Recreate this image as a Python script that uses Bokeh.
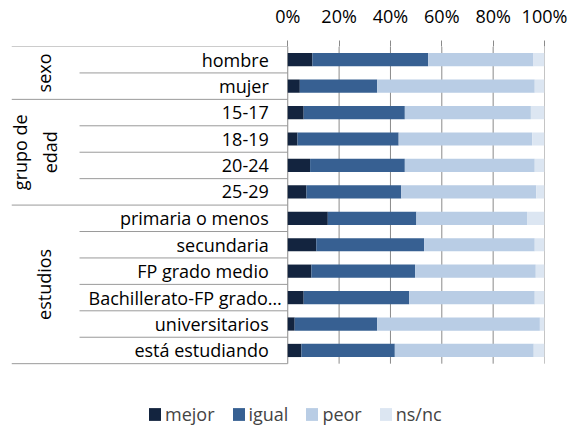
import math
from bokeh.plotting import figure
from bokeh.models import (ColumnDataSource, Range1d, FixedTicker, PrintfTickFormatter,
                          Legend, LegendItem)
from bokeh.core.properties import value
from bokeh.embed import file_html
from bokeh.resources import INLINE

# ---------------- data ----------------
categories = ["hombre", "mujer", "15-17", "18-19", "20-24", "25-29",
              "primaria o menos", "secundaria", "FP grado medio",
              "Bachillerato-FP grado…", "universitarios", "está estudiando"]
groups = ["sexo", "grupo de\nedad", "estudios"]
group_sizes = [2, 4, 6]
series = ["mejor", "igual", "peor", "ns/nc"]
mejor = [9.6, 4.7, 6.2, 3.8, 8.7, 7.3, 15.6, 11.1, 9.2, 6.2, 2.7, 5.3]
igual = [45.1, 30.1, 39.4, 39.4, 36.9, 36.9, 34.5, 42.0, 40.4, 41.1, 32.1, 36.4]
peor = [41.0, 61.4, 49.1, 52.0, 50.6, 52.6, 43.1, 43.1, 47.0, 48.9, 63.4, 54.1]
nsnc = [4.3, 3.8, 5.3, 4.8, 3.8, 3.2, 6.8, 3.8, 3.4, 3.8, 1.8, 4.2]
tick_values = [0, 20, 40, 60, 80, 100]

# ---------------- style ----------------
colors = ["#13243F", "#376092", "#B9CDE5", "#DCE6F2"]
FONT = "Open Sans"
FS = "18px"
GRID = "#8a8a8a"
TABLE = "#9a9a9a"
X_START = -107.6           # room for the label table on the left
X_INNER = -81.1            # start of inner row separators
Y_BELOW = -2.377           # room for the legend below the table

n = len(categories)
ypos = [n - 0.5 - i for i in range(n)]

src = ColumnDataSource(dict(y=ypos, cat=categories, mejor=mejor, igual=igual,
                            peor=peor, nsnc=nsnc))

p = figure(width=570, height=426, output_backend="svg", toolbar_location=None,
           x_range=Range1d(X_START, 100), y_range=Range1d(Y_BELOW, n),
           x_axis_location="above", y_axis_location=None,
           min_border_left=11, min_border_right=26, min_border_top=45,
           min_border_bottom=0)
p.outline_line_color = None
p.background_fill_color = "white"

renderers = p.hbar_stack(["mejor", "igual", "peor", "nsnc"], y="y", height=0.5,
                         color=colors, line_color=None, source=src)

# axis on top
ax = p.xaxis[0]
ax.ticker = FixedTicker(ticks=tick_values)
ax.formatter = PrintfTickFormatter(format="%d%%")
ax.axis_line_color = None
ax.major_tick_line_color = GRID
ax.major_tick_out = 6
ax.major_tick_in = 0
ax.minor_tick_line_color = None
ax.major_label_text_font = FONT
ax.major_label_text_font_size = FS
ax.major_label_text_color = "#000000"
ax.major_label_standoff = 13

p.xgrid.visible = False
p.ygrid.visible = False

# vertical gridlines, only over the table
p.segment(x0=tick_values, x1=tick_values, y0=[0] * len(tick_values), y1=[n] * len(tick_values),
          line_color=GRID, line_width=1, level="underlay")

# table lines
bounds = [n]
for s in group_sizes:
    bounds.append(bounds[-1] - s)
outer_y = bounds
inner_y = [y for y in range(1, n) if y not in bounds]
p.segment(x0=[X_START] * len(outer_y), x1=[0] * len(outer_y), y0=outer_y, y1=outer_y,
          line_color=TABLE, line_width=1)
p.segment(x0=[X_INNER] * len(inner_y), x1=[0] * len(inner_y), y0=inner_y, y1=inner_y,
          line_color=TABLE, line_width=1)

# category labels
short = [i for i, c in enumerate(categories) if not c.endswith("…")]
long_ = [i for i, c in enumerate(categories) if c.endswith("…")]
p.text(x=[0] * len(short), y=[ypos[i] for i in short], text=[categories[i] for i in short],
       x_offset=-19, text_align="right", text_baseline="middle",
       text_font=value(FONT), text_font_size=FS, text_color="#000000")
p.text(x=[0] * len(long_), y=[ypos[i] for i in long_], text=[categories[i] for i in long_],
       x_offset=-6, text_align="right", text_baseline="middle",
       text_font=value(FONT), text_font_size=FS, text_color="#000000")

# group labels (rotated)
centers = [(bounds[k] + bounds[k + 1]) / 2 for k in range(len(groups))]
single = [k for k, g in enumerate(groups) if "\n" not in g]
multi = [k for k, g in enumerate(groups) if "\n" in g]
p.text(x=[0] * len(single), y=[centers[k] for k in single], text=[groups[k] for k in single],
       angle=math.pi / 2, x_offset=-244, text_align="center", text_baseline="middle",
       text_font=value(FONT), text_font_size=FS, text_color="#000000")
p.text(x=[0] * len(multi), y=[centers[k] for k in multi], text=[groups[k] for k in multi],
       angle=math.pi / 2, x_offset=-253, text_align="center", text_baseline="middle",
       text_font=value(FONT), text_font_size=FS, text_color="#000000", text_line_height=1.25)

legend = Legend(items=[LegendItem(label=s, renderers=[r]) for s, r in zip(series, renderers)],
                orientation="horizontal", location=(136, 0),
                label_text_font=FONT, label_text_font_size=FS,
                glyph_width=15, glyph_height=16, label_height=16, label_standoff=3,
                spacing=16, padding=0, margin=0, border_line_color=None,
                background_fill_alpha=0)
p.add_layout(legend)

open("out.html", "w").write(file_html(p, INLINE))
